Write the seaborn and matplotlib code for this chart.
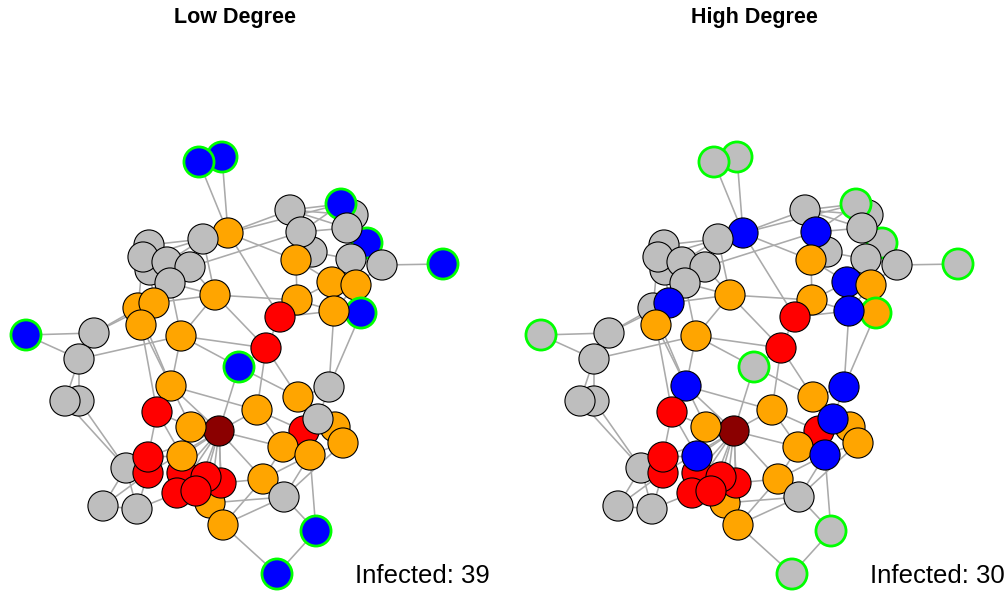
import matplotlib
matplotlib.use("Agg")
import matplotlib.pyplot as plt
import seaborn as sns
import pandas as pd
import numpy as np

sns.set_theme(style="white")
plt.rcParams['font.family'] = ['Liberation Sans', 'DejaVu Sans']
plt.rcParams['text.color'] = 'black'

# ---- network data (node layout positions in layout units, draw order) ----
node_names = ["B", "A", "C", "D", "E", "I", "F", "G", "H", "J", "K", "L", "M", "N", "O",
              "P", "Q", "AA2", "BD", "BC", "R", "T", "S", "W", "V", "X", "U", "Y", "Z", "AA",
              "AB", "AC", "AD", "AG", "AF", "AE", "AH", "AI", "AJ", "AK", "AL", "AM", "AO",
              "AP", "AQ", "AN", "AR", "AS", "AT", "AU", "AV", "AW", "AX", "AZ", "AY", "BE",
              "BF", "BG", "BK", "BJ", "BI", "BL", "BH", "BN", "BM", "BO", "BP", "BQ", "BR"]
node_x = [222, 199, 228, 203, 149, 150, 143, 167, 190, 170, 215, 138, 154, 141, 181,
          94, 26, 79, 79, 65, 290, 353, 341, 367, 347, 312, 301, 296, 351, 382,
          443, 332, 356, 361, 334, 297, 280, 266, 239, 329, 298, 257, 304,
          335, 343, 318, 283, 310, 219, 263, 284, 316, 277, 210, 223, 171,
          157, 191, 126, 148, 148, 182, 182, 221, 206, 177, 196, 103, 137]
node_y = [157, 162, 233, 239, 245, 270, 257, 262, 267, 283, 295, 308, 303, 325, 336,
          333, 335, 359, 401, 401, 210, 215, 204, 243, 228, 252, 232, 260, 259, 265,
          264, 282, 285, 313, 311, 300, 317, 348, 367, 387, 397, 410, 431,
          427, 443, 419, 447, 455, 431, 479, 497, 531, 574, 503, 525, 386,
          412, 427, 468, 473, 457, 473, 456, 483, 477, 493, 491, 506, 509]

# states: S = susceptible, I = infected, R = recovered, P = patient zero, V = vaccinated
state_low = ["V", "V", "I", "S", "S", "S", "S", "S", "S", "S", "I", "I", "I", "I", "I",
             "S", "V", "S", "S", "S", "S", "S", "V", "V", "S", "S", "S", "I", "S", "S",
             "V", "I", "I", "V", "I", "I", "R", "R", "V", "S", "I", "I", "R",
             "I", "I", "S", "I", "I", "P", "I", "S", "V", "V", "I", "I", "I",
             "R", "I", "S", "R", "R", "R", "I", "R", "R", "R", "R", "S", "S"]
state_high = ["S", "S", "V", "S", "S", "S", "S", "S", "S", "S", "I", "S", "V", "I", "I",
              "S", "S", "S", "S", "S", "S", "S", "S", "S", "S", "S", "V", "I", "S", "S",
              "S", "V", "I", "I", "V", "I", "R", "R", "S", "V", "I", "I", "R",
              "I", "I", "V", "I", "V", "P", "I", "S", "S", "S", "I", "I", "V",
              "R", "I", "S", "R", "R", "R", "V", "R", "R", "R", "R", "S", "S"]
low_degree_set = ["A", "B", "Q", "S", "W", "AB", "AG", "AJ", "AW", "AX"]

edges = [("A", "C"), ("B", "C"), ("C", "D"), ("C", "R"), ("C", "Y"), ("C", "AH"), ("C", "S"),
         ("D", "E"), ("D", "F"), ("D", "H"), ("D", "K"), ("H", "U"), ("G", "D"),
         ("E", "F"), ("E", "G"), ("F", "I"), ("G", "H"), ("G", "J"), ("H", "J"), ("I", "J"),
         ("F", "L"), ("I", "M"), ("J", "O"), ("H", "K"), ("J", "K"), ("K", "M"), ("K", "O"),
         ("K", "AE"), ("K", "AI"), ("L", "M"), ("L", "N"), ("M", "N"), ("N", "BF"), ("L", "BE"),
         ("N", "BE"), ("O", "BE"), ("P", "L"), ("P", "M"), ("P", "AA2"), ("Q", "P"), ("Q", "AA2"),
         ("AA2", "O"), ("AA2", "BC"), ("AA2", "BD"), ("BC", "BK"), ("BD", "BK"), ("BC", "BD"),
         ("BK", "BQ"), ("BK", "BR"), ("BK", "BI"), ("BJ", "BQ"), ("BJ", "BR"), ("BR", "BO"),
         ("BQ", "BR"), ("O", "AI"), ("O", "AJ"), ("BE", "AM"), ("BE", "BG"), ("BE", "AT"),
         ("BE", "BF"), ("BF", "BI"), ("BF", "BG"), ("BF", "BH"),
         ("AT", "BG"), ("AT", "BH"), ("AT", "BL"), ("AT", "BM"), ("AT", "BN"), ("AT", "BO"),
         ("AT", "BP"), ("AT", "AY"), ("AT", "AZ"), ("AT", "AR"), ("AT", "AM"), ("AT", "AU"),
         ("AT", "AJ"), ("AT", "BI"), ("AT", "BJ"),
         ("BH", "BL"), ("BH", "BI"), ("BI", "BJ"), ("BL", "BO"), ("BM", "BP"), ("BN", "BP"),
         ("BO", "BP"), ("BN", "AU"), ("BN", "AZ"), ("AZ", "AY"), ("AZ", "AV"), ("AY", "AV"),
         ("AY", "AU"), ("AY", "AX"), ("AX", "AW"), ("AV", "AW"), ("AU", "AV"), ("AU", "AR"),
         ("AU", "AS"), ("AV", "AS"), ("AV", "AQ"), ("AW", "AS"),
         ("AI", "AH"), ("AI", "AJ"), ("AI", "AM"), ("AI", "AL"), ("AJ", "AL"), ("AM", "AO"),
         ("AM", "AR"), ("AL", "AK"), ("AL", "AN"), ("AK", "AN"), ("AK", "AF"), ("AK", "AG"),
         ("AN", "AP"), ("AN", "AO"), ("AO", "AR"), ("AO", "AS"), ("AP", "AQ"), ("AQ", "AS"),
         ("AR", "AS"), ("AL", "AP"),
         ("AH", "AE"), ("AH", "AF"), ("AE", "AC"), ("AE", "AF"), ("AE", "Y"), ("AC", "AD"),
         ("AC", "AF"), ("AD", "AF"), ("AF", "AG"), ("AD", "AG"), ("AC", "Y"), ("Y", "X"),
         ("X", "U"), ("X", "Z"), ("U", "V"), ("U", "S"), ("U", "R"), ("R", "S"), ("R", "V"),
         ("R", "T"), ("S", "T"), ("S", "V"), ("T", "V"), ("V", "W"), ("V", "Z"), ("W", "Z"),
         ("W", "AA"), ("Z", "AA"), ("AA", "AB"), ("Z", "AD"), ("AA", "AD"), ("AC", "Z")]

titles = ["Low Degree", "High Degree"]
infected_counts = [39, 30]

state_palette = {"S": "#BEBEBE", "I": "#FFA500", "R": "#FF0000", "P": "#8B0000", "V": "#0000FF"}

# ---- build frames ----
nodes = pd.DataFrame({"name": node_names, "x": node_x, "y": node_y,
                      "low": state_low, "high": state_high})
nodes["border"] = np.where(nodes["name"].isin(low_degree_set), "#00FF00", "black")
nodes["lw"] = np.where(nodes["name"].isin(low_degree_set), 2.0, 0.8)
pos = {n: (x, y) for n, x, y in zip(node_names, node_x, node_y)}

fig = plt.figure(figsize=(10.08, 5.92), dpi=100)
W, H = 1008, 592
panel_offsets = [0, 515]

for i, (col, title, shift) in enumerate(zip(["low", "high"], titles, panel_offsets)):
    ax = fig.add_axes([i * 0.5, 0, 0.5, 1])
    x0 = i * 504 - shift
    ax.set_xlim(x0, x0 + 504)
    ax.set_ylim(H, 0)
    ax.set_axis_off()
    for a, b in edges:
        (xa, ya), (xb, yb) = pos[a], pos[b]
        ax.plot([xa, xb], [ya, yb], color="#AAAAAA", lw=1.15, zorder=1,
                solid_capstyle="butt")
    sns.scatterplot(data=nodes, x="x", y="y", hue=col, palette=state_palette,
                    s=470, legend=False, ax=ax, zorder=2)
    coll = ax.collections[-1]
    coll.set_edgecolors(nodes["border"].tolist())
    coll.set_linewidths(nodes["lw"].tolist())
    ax.set_xlabel("")
    ax.set_ylabel("")

fig.text(235 / W, 1 - 18 / H, titles[0], ha="center", va="center",
         fontsize=15.5, fontweight="bold", color="black")
fig.text(754 / W, 1 - 18 / H, titles[1], ha="center", va="center",
         fontsize=15.5, fontweight="bold", color="black")
fig.text(355 / W, 1 - 576 / H, f"Infected: {infected_counts[0]}", ha="left", va="center",
         fontsize=18.5, color="black")
fig.text(870 / W, 1 - 576 / H, f"Infected: {infected_counts[1]}", ha="left", va="center",
         fontsize=18.5, color="black")

fig.savefig("out.png", dpi=100, facecolor="white")
